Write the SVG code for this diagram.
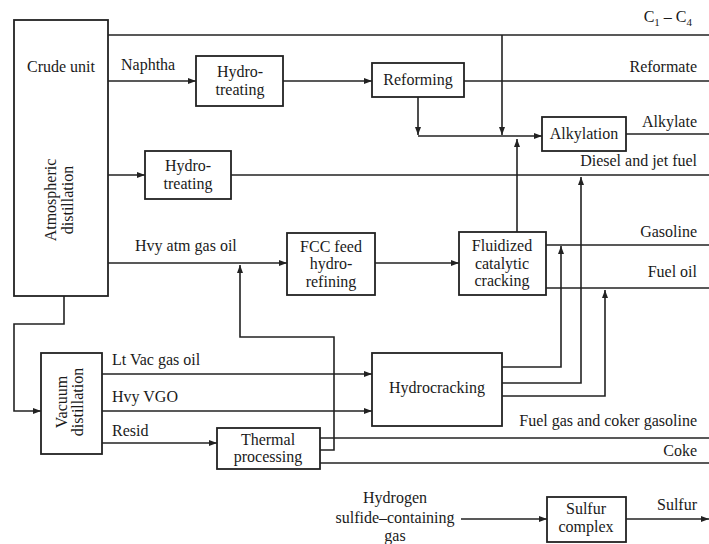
<svg xmlns="http://www.w3.org/2000/svg" width="709" height="544" viewBox="0 0 709 544">
<defs>
<marker id="ah" markerWidth="9" markerHeight="7" refX="8" refY="3" orient="auto" markerUnits="userSpaceOnUse">
<path d="M0,0 L8,3 L0,6 z" fill="#222"/>
</marker>
<style>
text{font-family:"Liberation Serif","Times New Roman",serif;font-size:16px;fill:#1a1a1a}
.c{text-anchor:middle}
.e{text-anchor:end}
rect{fill:#fff;stroke:#222;stroke-width:1.8}
.ln{fill:none;stroke:#222;stroke-width:1.6}
.ar{marker-end:url(#ah)}
</style>
</defs>
<rect x="0" y="0" width="709" height="544" style="fill:#fff;stroke:none"/>

<g id="connectors">
<path class="ln" d="M108,35 H709"/>
<path class="ln ar" d="M502,35 V135"/>
<path class="ln ar" d="M108,81 H196"/>
<path class="ln ar" d="M283,81 H372"/>
<path class="ln" d="M464,81 H709"/>
<path class="ln ar" d="M418,97 V135"/>
<path class="ln ar" d="M418,136 H542"/>
<path class="ln ar" d="M517,232 V139"/>
<path class="ln" d="M626,134 H709"/>
<path class="ln ar" d="M108,175 H145"/>
<path class="ln" d="M231,175 H709"/>
<path class="ln ar" d="M108,263 H287"/>
<path class="ln ar" d="M375,263 H459"/>
<path class="ln ar" d="M320,450 H334 V337 H240 V265"/>
<path class="ln" d="M546,245 H709"/>
<path class="ln" d="M546,288 H709"/>
<path class="ln ar" d="M64,296 V324 H14 V411 H41"/>
<path class="ln ar" d="M102,374 H372"/>
<path class="ln ar" d="M102,411 H372"/>
<path class="ln ar" d="M102,443 H217"/>
<path class="ln ar" d="M502,367 H561 V246"/>
<path class="ln ar" d="M502,383 H581 V177"/>
<path class="ln ar" d="M502,396 H605 V290"/>
<path class="ln" d="M320,438 H709"/>
<path class="ln" d="M320,463 H709"/>
<path class="ln ar" d="M461,519 H547"/>
<path class="ln ar" d="M626,519 H709"/>
</g>

<g id="stream-labels">
<text class="e" x="692" y="22">C<tspan font-size="11" dy="4">1</tspan><tspan dy="-4"> – C</tspan><tspan font-size="11" dy="4">4</tspan></text>
<text x="121" y="70">Naphtha</text>
<text class="e" x="697" y="72">Reformate</text>
<text class="e" x="697" y="127">Alkylate</text>
<text class="e" x="697" y="166">Diesel and jet fuel</text>
<text x="135" y="251">Hvy atm gas oil</text>
<text class="e" x="697" y="237">Gasoline</text>
<text class="e" x="697" y="277">Fuel oil</text>
<text x="112" y="365">Lt Vac gas oil</text>
<text x="112" y="402">Hvy VGO</text>
<text x="112" y="436">Resid</text>
<text class="e" x="697" y="426">Fuel gas and coker gasoline</text>
<text class="e" x="697" y="456">Coke</text>
<text class="c" x="395" y="503">Hydrogen</text>
<text class="c" x="395" y="523">sulfide–containing</text>
<text class="c" x="395" y="541">gas</text>
<text class="e" x="697" y="510">Sulfur</text>
</g>

<g id="crude-unit">
<rect x="14" y="20" width="94" height="276"/>
<text class="c" x="61" y="72">Crude unit</text>
<text class="c" transform="translate(56,200) rotate(-90)">Atmospheric</text>
<text class="c" transform="translate(73,200) rotate(-90)">distillation</text>
</g>

<g id="hydrotreating-1">
<rect x="196" y="56" width="87" height="50"/>
<text class="c" x="240" y="77">Hydro-</text>
<text class="c" x="240" y="95">treating</text>
</g>

<g id="hydrotreating-2">
<rect x="145" y="151" width="86" height="48"/>
<text class="c" x="188" y="171">Hydro-</text>
<text class="c" x="188" y="189">treating</text>
</g>

<g id="reforming">
<rect x="372" y="63" width="92" height="34"/>
<text class="c" x="418" y="85">Reforming</text>
</g>

<g id="alkylation">
<rect x="542" y="117" width="84" height="34"/>
<text class="c" x="584" y="139">Alkylation</text>
</g>

<g id="fcc-feed-hydrorefining">
<rect x="287" y="233" width="88" height="62"/>
<text class="c" x="331" y="252">FCC feed</text>
<text class="c" x="331" y="269">hydro-</text>
<text class="c" x="331" y="287">refining</text>
</g>

<g id="fcc">
<rect x="459" y="232" width="87" height="63"/>
<text class="c" x="502" y="251">Fluidized</text>
<text class="c" x="502" y="269">catalytic</text>
<text class="c" x="502" y="286">cracking</text>
</g>

<g id="vacuum-distillation">
<rect x="41" y="353" width="61" height="101"/>
<text class="c" transform="translate(67,402) rotate(-90)">Vacuum</text>
<text class="c" transform="translate(83,402) rotate(-90)">distillation</text>
</g>

<g id="hydrocracking">
<rect x="372" y="353" width="130" height="73"/>
<text class="c" x="437" y="393">Hydrocracking</text>
</g>

<g id="thermal-processing">
<rect x="217" y="428" width="103" height="41"/>
<text class="c" x="268" y="445">Thermal</text>
<text class="c" x="268" y="462">processing</text>
</g>

<g id="sulfur-complex">
<rect x="547" y="497" width="79" height="45"/>
<text class="c" x="586" y="514">Sulfur</text>
<text class="c" x="586" y="532">complex</text>
</g>
</svg>
